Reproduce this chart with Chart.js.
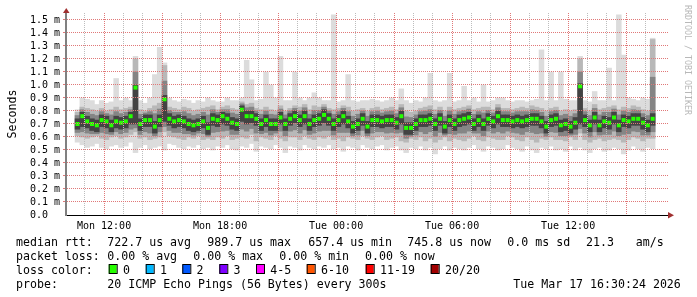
<!DOCTYPE html>
<html>
<head>
<meta charset="utf-8">
<script src="https://cdn.jsdelivr.net/npm/chart.js@4.4.1/dist/chart.umd.min.js"></script>
<style>
body { margin: 0; background: #fff; }
canvas { display: block; }
</style>
</head>
<body>
<canvas id="smoke" width="697" height="297"></canvas>
<script>
// 15 minute buckets, x = hours since Mon 00:00
const firstBucket = 10.625;
const bucketHours = 0.25;

// all values in microseconds
const medianUs = [700,760,720,700,690,730,720,690,720,710,
  720,760,980,700,730,730,680,730,890,740,
  720,730,720,700,690,700,720,670,740,730,
  760,740,710,700,810,760,760,740,700,730,
  700,700,750,700,740,760,730,760,700,730,
  740,770,740,700,730,760,720,680,700,740,
  680,730,730,720,730,730,710,760,670,670,
  700,730,730,740,700,740,680,730,700,730,
  740,750,700,730,700,740,720,760,730,730,
  720,730,720,730,740,740,720,680,730,740,
  690,700,680,710,990,730,690,750,690,720,
  710,750,690,730,720,740,740,710,690,740];

const maxUs = [810,900,890,880,850,880,860,870,1050,880,
  900,880,1220,880,860,900,1080,1290,1170,900,
  880,870,890,880,860,880,870,900,880,870,
  870,900,880,880,900,1190,1040,880,890,1100,
  1000,900,1220,880,880,1100,900,880,900,940,
  900,880,880,1540,870,880,1080,880,870,880,
  880,890,880,870,880,900,880,970,880,860,
  880,870,900,1090,880,870,880,1090,870,880,
  990,880,900,870,1000,870,880,900,900,880,
  870,880,880,870,880,890,1270,880,1100,880,
  1100,890,880,880,1220,880,870,950,880,880,
  1130,880,1540,1230,900,890,880,900,890,1360];

const minUs = [560,540,520,530,550,520,510,530,540,520,
  530,560,480,520,540,510,520,530,500,550,
  540,520,510,530,520,540,510,520,500,530,
  520,540,510,500,530,520,550,490,530,520,
  510,540,520,480,530,520,500,540,520,510,
  530,520,540,510,520,490,530,520,500,540,
  520,510,530,540,500,520,530,500,480,520,
  510,530,500,520,470,510,530,500,520,510,
  500,520,540,510,490,530,520,500,510,540,
  520,510,490,530,500,480,520,510,530,500,
  510,490,530,500,520,500,480,510,520,490,
  500,520,510,470,500,530,510,490,520,510];

// outer grey band
const loUs = [610,600,590,600,610,590,580,600,610,590,
  600,620,640,590,600,580,590,600,640,610,
  600,590,580,600,590,610,580,590,580,600,
  590,610,580,590,600,590,620,570,600,590,
  580,610,590,570,600,600,580,610,590,580,
  600,590,610,580,590,570,600,590,580,610,
  590,580,600,610,580,590,600,570,560,590,
  580,600,570,590,560,580,600,570,590,580,
  570,590,610,580,570,600,590,580,580,610,
  600,580,570,600,580,560,590,580,600,580,
  580,570,600,580,630,580,560,580,590,570,
  580,590,580,560,580,600,590,570,590,590];

const hiUs = [790,830,820,810,800,820,800,810,830,810,
  820,830,1200,810,800,820,840,860,1150,830,
  820,810,830,820,800,810,820,830,840,810,
  830,840,820,810,870,850,860,820,810,830,
  810,800,840,800,820,840,830,850,810,840,
  830,850,820,810,820,840,830,800,810,820,
  800,820,830,810,820,830,810,850,800,790,
  800,820,830,840,810,830,800,830,810,820,
  830,840,810,820,830,830,810,850,820,820,
  810,820,830,820,840,830,820,800,820,830,
  800,810,800,810,1200,820,800,850,810,820,
  830,840,810,830,820,840,830,810,800,1350];

// inner grey band
const innerLoUs = [635,640,630,625,625,635,625,620,640,625,
  635,660,670,620,640,630,610,640,680,650,
  635,635,625,625,615,630,625,605,635,640,
  645,650,620,620,660,645,665,630,625,635,
  615,630,645,610,645,655,630,655,620,630,
  645,650,650,615,635,635,635,610,615,650,
  610,630,640,640,630,635,630,635,590,605,
  615,640,625,640,605,635,615,625,620,630,
  630,645,630,630,610,645,630,640,630,645,
  635,630,620,640,635,625,630,605,640,635,
  610,610,615,620,665,630,600,640,615,620,
  620,645,610,620,625,645,640,615,615,640];

const innerHiUs = [765,810,790,775,765,795,780,770,795,780,
  790,810,1100,775,785,795,780,815,1030,805,
  790,790,795,780,765,775,790,770,810,790,
  810,810,785,775,855,825,830,800,775,800,
  775,770,815,770,800,820,800,825,775,805,
  805,830,800,775,795,820,795,760,775,800,
  760,795,800,785,795,800,780,825,755,750,
  770,795,800,810,775,805,760,800,775,795,
  805,815,775,795,785,805,785,825,795,795,
  785,795,795,795,810,805,790,760,795,805,
  765,775,760,780,1100,795,765,820,770,790,
  790,815,770,800,790,810,805,780,765,1060];

// dark core around the median
const coreLoUs = [660,680,670,650,640,680,670,640,670,660,
  670,700,700,650,680,680,630,680,720,690,
  670,680,670,650,640,650,670,620,690,680,
  700,690,660,650,720,700,710,690,650,680,
  650,650,700,650,690,710,680,700,650,680,
  690,710,690,650,680,700,670,630,650,690,
  630,680,680,670,680,680,660,700,620,620,
  650,680,680,690,650,690,630,680,650,680,
  690,700,650,680,650,690,670,700,680,680,
  670,680,670,680,690,690,670,630,680,690,
  640,650,630,660,700,680,640,700,640,670,
  660,700,640,680,670,690,690,660,640,690];

const coreHiUs = [740,790,760,740,730,770,760,730,760,750,
  760,790,1000,740,770,770,720,770,920,780,
  760,770,760,740,730,740,760,710,780,770,
  790,780,750,740,840,800,800,780,740,770,
  740,740,790,740,780,800,770,800,740,770,
  780,810,780,740,770,800,760,720,740,780,
  720,770,770,760,770,770,750,800,710,710,
  740,770,770,780,740,780,720,770,740,770,
  780,790,740,770,740,780,760,800,770,770,
  760,770,760,770,780,780,760,720,770,780,
  730,740,720,750,1010,770,730,790,730,760,
  750,790,730,770,760,780,780,750,730,780];

const statRows = [
  { y: 245.5, parts: [[16, 'median rtt:'], [107.3, '722.7 us avg'], [207.3, '989.7 us max'], [308.3, '657.4 us min'], [407.3, '745.8 us now'], [507.3, '0.0 ms sd'], [586, '21.3'], [635.7, 'am/s']] },
  { y: 259.5, parts: [[16, 'packet loss:'], [107.3, '0.00 % avg'], [193.3, '0.00 % max'], [279.3, '0.00 % min'], [365, '0.00 % now']] },
  { y: 273.5, parts: [[16, 'loss color:']] },
  { y: 287.5, parts: [[16, 'probe:'], [107.3, '20 ICMP Echo Pings (56 Bytes) every 300s'], [513.3, 'Tue Mar 17 16:30:24 2026']] }
];

const lossLabels = ['0', '1', '2', '3', '4-5', '6-10', '11-19', '20/20'];
const lossColors = ['#26ff00', '#00b8ff', '#0059ff', '#7e00ff', '#ff00ff', '#ff5500', '#ff0000', '#a10000'];
const lossBoxX = [108.7, 145.7, 182.3, 219.3, 256, 306.7, 365.7, 430.7];

const times = medianUs.map((_, i) => firstBucket + i * bucketHours);
const band = (lo, hi) => times.map((t, i) => ({ x: t, y: [lo[i] / 1000, hi[i] / 1000] }));

const monoFont = '"DejaVu Sans Mono"';
Chart.defaults.font.family = monoFont;
Chart.defaults.color = '#000';

const majorGrid = '#e07878';
const minorGrid = '#bdbdbd';

function timeLabel(v) {
    if (v % 6 !== 0) return '';
    const day = v < 24 ? 'Mon' : 'Tue';
    return `${day} ${String(v % 24).padStart(2, '0')}:00`;
}

const decorations = {
    id: 'decorations',
    afterDraw(chart) {
        const ctx = chart.ctx;
        const area = chart.chartArea;
        ctx.save();

        // axis arrows
        ctx.fillStyle = '#a03030';
        ctx.beginPath();
        ctx.moveTo(area.left - 3, area.top);
        ctx.lineTo(area.left + 3.5, area.top);
        ctx.lineTo(area.left + 0.25, area.top - 5);
        ctx.closePath();
        ctx.fill();
        ctx.beginPath();
        ctx.moveTo(area.right, area.bottom - 3);
        ctx.lineTo(area.right, area.bottom + 3.5);
        ctx.lineTo(area.right + 6, area.bottom + 0.25);
        ctx.closePath();
        ctx.fill();

        // y title
        ctx.fillStyle = '#000';
        ctx.font = '11.6px ' + monoFont;
        ctx.save();
        ctx.translate(15.5, 114);
        ctx.rotate(-Math.PI / 2);
        ctx.textAlign = 'center';
        ctx.textBaseline = 'alphabetic';
        ctx.fillText('Seconds', 0, 0);
        ctx.restore();

        // legend / statistics lines
        ctx.textAlign = 'left';
        ctx.textBaseline = 'alphabetic';
        statRows.forEach(row => {
            row.parts.forEach(([x, text]) => ctx.fillText(text, x, row.y));
        });
        lossLabels.forEach((label, i) => {
            const bx = lossBoxX[i];
            ctx.fillStyle = lossColors[i];
            ctx.fillRect(bx, 264.5, 8, 9);
            ctx.strokeStyle = '#000';
            ctx.lineWidth = 1;
            ctx.strokeRect(bx + 0.5, 264.5, 8, 9);
            ctx.fillStyle = '#000';
            ctx.fillText(label, bx + 14.3, 273.5);
        });

        // watermark
        ctx.fillStyle = '#b8b8b8';
        ctx.font = '8.3px ' + monoFont;
        ctx.translate(684.5, 5);
        ctx.rotate(Math.PI / 2);
        ctx.textBaseline = 'alphabetic';
        ctx.fillText('RRDTOOL / TOBI OETIKER', 0, 0);
        ctx.restore();
    }
};

new Chart(document.getElementById('smoke'), {
    type: 'bar',
    data: {
        datasets: [
            {
                type: 'line',
                label: 'median',
                data: times.map((t, i) => ({ x: t, y: medianUs[i] / 1000 })),
                showLine: false,
                pointStyle: 'rect',
                pointRadius: 2.83,
                pointBorderWidth: 0,
                pointBackgroundColor: '#26ff00',
                order: 0
            },
            { label: 'core', data: band(coreLoUs, coreHiUs), backgroundColor: '#434343', grouped: false, order: 1 },
            { label: 'inner', data: band(innerLoUs, innerHiUs), backgroundColor: '#858585', grouped: false, order: 2 },
            { label: 'outer', data: band(loUs, hiUs), backgroundColor: '#b8b8b8', grouped: false, order: 3 },
            { label: 'range', data: band(minUs, maxUs), backgroundColor: '#dcdcdc', grouped: false, order: 4 }
        ]
    },
    options: {
        responsive: false,
        animation: false,
        events: [],
        layout: { padding: { left: 0, top: 13, right: 29, bottom: 0 } },
        datasets: { bar: { barPercentage: 1, categoryPercentage: 1, borderWidth: 0 } },
        plugins: { legend: { display: false }, tooltip: { enabled: false } },
        scales: {
            x: {
                type: 'linear',
                min: 10.55,
                max: 40.65,
                afterFit: s => { s.height = 82; },
                border: { display: true, color: '#000', width: 1, dash: [1, 1], z: 2 },
                grid: {
                    z: 1,
                    color: c => c.tick.value % 3 === 0 ? majorGrid : minorGrid,
                    drawTicks: false,
                    offset: false
                },
                ticks: {
                    stepSize: 1,
                    includeBounds: false,
                    autoSkip: false,
                    maxRotation: 0,
                    maxTicksLimit: 100,
                    padding: 5,
                    font: { size: 10 },
                    callback: v => timeLabel(v)
                }
            },
            y: {
                min: 0,
                max: 1.5538,
                afterFit: s => { s.width = 66; },
                border: { display: true, color: '#808080', width: 2, dash: [1, 1], z: 2 },
                grid: {
                    z: 1,
                    color: c => c.tick.value === 0 ? 'rgba(0,0,0,0)' : majorGrid,
                    tickLength: 3
                },
                ticks: {
                    stepSize: 0.1,
                    includeBounds: false,
                    autoSkip: false,
                    maxTicksLimit: 100,
                    padding: 3,
                    font: { size: 10 },
                    callback: v => v === 0 ? '0.0  ' : v.toFixed(1) + ' m'
                }
            }
        }
    },
    plugins: [decorations]
});
</script>
</body>
</html>
